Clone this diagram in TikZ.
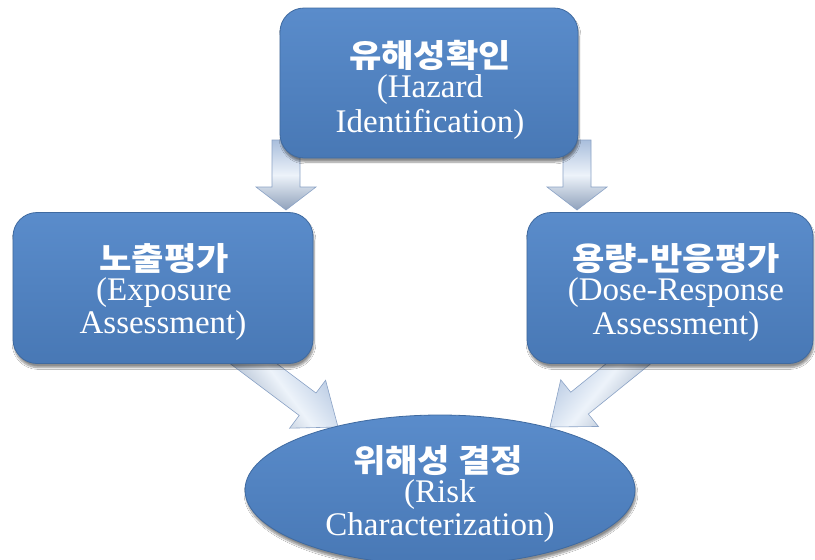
\documentclass[tikz,border=0pt]{standalone}
\usepackage{fontspec}
\setmainfont{Liberation Serif}
\newfontfamily\kor{Noto Sans CJK KR}[FakeStretch=1.1]
\usetikzlibrary{calc,shapes.geometric,shadows.blur}

\definecolor{boxtop}{HTML}{5A8CCB}
\definecolor{boxbot}{HTML}{4878B5}
\definecolor{boxedge}{HTML}{3F6AA0}
\definecolor{arrside}{HTML}{A9BEDC}
\definecolor{arrmid}{HTML}{EDF3FA}
\definecolor{arredge}{HTML}{8BA3C6}

% block arrow between two named points: start, tip, head length, shading angle
\newcommand\blockarrow[4]{%
  \coordinate (#1-#2-b) at ($(#2)!#3!(#1)$);
  \path[arrowbody, shading angle=#4]
    ($(#1)!14pt!90:(#2)$) -- ($(#1-#2-b)!14pt!90:(#2)$)
    -- ($(#1-#2-b)!30pt!90:(#2)$) -- (#2)
    -- ($(#1-#2-b)!30pt!-90:(#2)$) -- ($(#1-#2-b)!14pt!-90:(#2)$)
    -- ($(#1)!14pt!-90:(#2)$) -- cycle;
}

\begin{document}
\begin{tikzpicture}[x=1pt,y=-1pt,
  stepbox/.style={rectangle, rounded corners=24pt, draw=boxedge, line width=0.8pt,
    top color=boxtop, bottom color=boxbot, inner sep=0pt,
    blur shadow={shadow xshift=1pt, shadow yshift=-4pt, shadow opacity=45, shadow blur steps=8}},
  riskshape/.style={ellipse, draw=boxedge, line width=0.8pt,
    top color=boxtop, bottom color=boxbot, inner sep=0pt,
    blur shadow={shadow xshift=1pt, shadow yshift=-4pt, shadow opacity=45, shadow blur steps=8}},
  arrowbody/.style={draw=arredge, line width=0.6pt, line join=miter,
    left color=arrside, right color=arrside!85!black, middle color=arrmid},
  kortext/.style={text=white, anchor=base, inner sep=0pt,
    font=\kor\bfseries\fontsize{32}{37}\selectfont},
  engtext/.style={text=white, anchor=base, inner sep=0pt,
    font=\fontsize{33}{37}\selectfont}]

\useasboundingbox (0,0) rectangle (815,560);
\fill[white] (0,0) rectangle (815,560);

% arrow end points
\coordinate (hl) at (286,140);
\coordinate (hlt) at (286,210);
\coordinate (hr) at (577,140);
\coordinate (hrt) at (577,210);
\coordinate (el) at (226,343);
\coordinate (elt) at (338,427);
\coordinate (dr) at (659,339);
\coordinate (drt) at (550,427);

% arrows, drawn first so that the boxes cover their tails
\blockarrow{hl}{hlt}{23pt}{0}
\blockarrow{hr}{hrt}{23pt}{0}
\blockarrow{el}{elt}{38pt}{-53}
\blockarrow{dr}{drt}{38pt}{51}

% boxes
\node[stepbox, minimum width=298pt, minimum height=150pt] (haz) at (429,83) {};
\node[stepbox, minimum width=300pt, minimum height=151pt] (expo) at (163,288) {};
\node[stepbox, minimum width=286pt, minimum height=151pt] (dose) at (670,288) {};
\node[riskshape, minimum width=390pt, minimum height=150pt] (risk) at (440,490) {};

% labels
\node[kortext] (hazk) at (430,67) {유해성확인};
\node[engtext] (haze1) at (430,97) {(Hazard};
\node[engtext] (haze2) at (430,132) {Identification)};

\node[kortext] (expok) at (164,270) {노출평가};
\node[engtext] (expoe1) at (164,300) {(Exposure};
\node[engtext] (expoe2) at (163,333) {Assessment)};

\node[kortext] (dosek) at (676,270) {용량-반응평가};
\node[engtext] (dosee1) at (676,300) {(Dose-Response};
\node[engtext] (dosee2) at (676,334) {Assessment)};

\node[kortext] (riskk) at (438,472) {위해성 결정};
\node[engtext] (riske1) at (440,502) {(Risk};
\node[engtext] (riske2) at (440,535) {Characterization)};

\end{tikzpicture}
\end{document}
